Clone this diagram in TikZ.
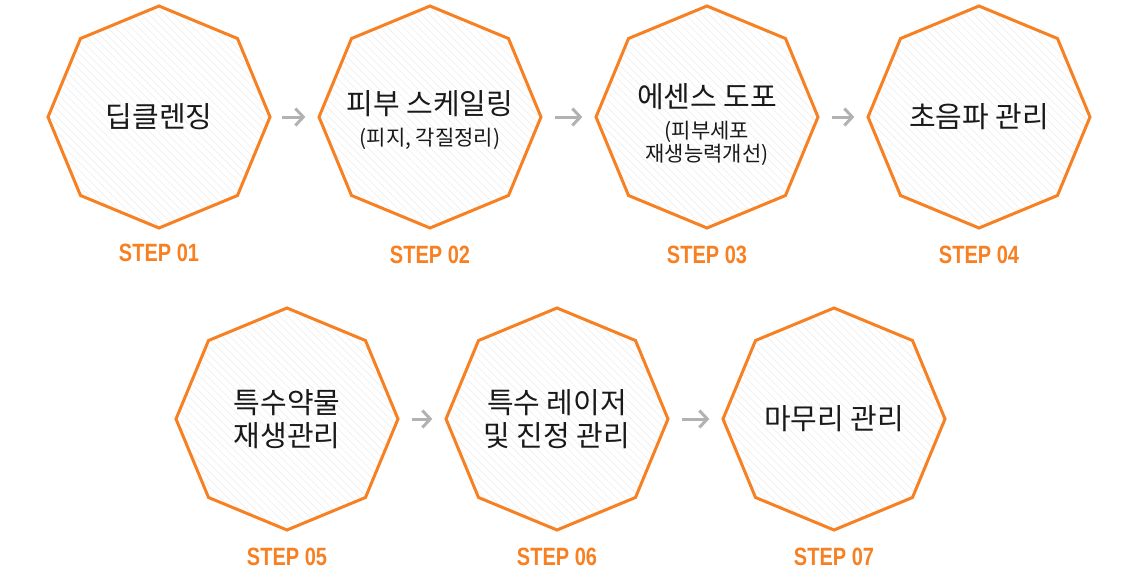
\documentclass[tikz,border=0pt]{standalone}
\usepackage{fontspec}
\setmainfont{Noto Sans CJK KR}
\newfontfamily\stepfont{Liberation Sans}
\usetikzlibrary{shapes.geometric}
\usetikzlibrary{patterns.meta}
\usetikzlibrary{arrows.meta}
\usetikzlibrary{positioning}

\definecolor{steporange}{RGB}{246,128,34}
\definecolor{flowgray}{RGB}{178,178,178}
\newcommand\subtxt[1]{{\fontsize{21}{23}\selectfont #1}}

\tikzset{
  oct/.style={draw=steporange, line width=3pt, regular polygon, regular polygon sides=8,
    shape border rotate=22.5, minimum size=222pt, inner sep=0pt,
    pattern={Lines[angle=-45,distance=5.5pt,line width=0.6pt]}, pattern color=black!7},
  octtxt/.style={align=center, inner sep=0pt, text=black!90, font=\fontsize{29}{33}\selectfont},
  steplbl/.style={text=steporange, font=\stepfont\bfseries\fontsize{25}{25}\selectfont},
  flow/.style={draw=flowgray, line width=3pt, -{Straight Barb[length=8pt,width=17pt]},
    shorten >=12pt, shorten <=12pt}
}

\begin{document}
\begin{tikzpicture}[x=1pt, y=-1pt]
\useasboundingbox (0,0) rectangle (1138,581);

\foreach \i/\x/\y/\dy/\txt in {1/159/117/0/{딥클렌징},
  2/430/117/3/{피부 스케일링\\[-2pt]\subtxt{(피지, 각질정리)}},
  3/707/117/8/{에센스 도포\\[-2pt]\subtxt{(피부세포}\\[-10pt]\subtxt{재생능력개선)}},
  4/979/117/0/{초음파 관리},
  5/287/419/0/{특수약물\\재생관리},
  6/557/419/0/{특수 레이저\\및 진정 관리},
  7/834/419/0/{마무리 관리}}
{
  \node[oct] (s\i) at (\x,\y) {};
  \node[octtxt] (t\i) at ([yshift=-\dy pt]s\i.center) {\txt};
}

\foreach \i in {1,...,7} \node[steplbl] (l\i) at ([yshift=-25pt]s\i.south) {\scalebox{0.8}[1]{STEP 0\i}};

\foreach \a/\b in {1/2, 2/3, 3/4, 5/6, 6/7} \draw[flow] (s\a) -- (s\b);

\end{tikzpicture}
\end{document}
